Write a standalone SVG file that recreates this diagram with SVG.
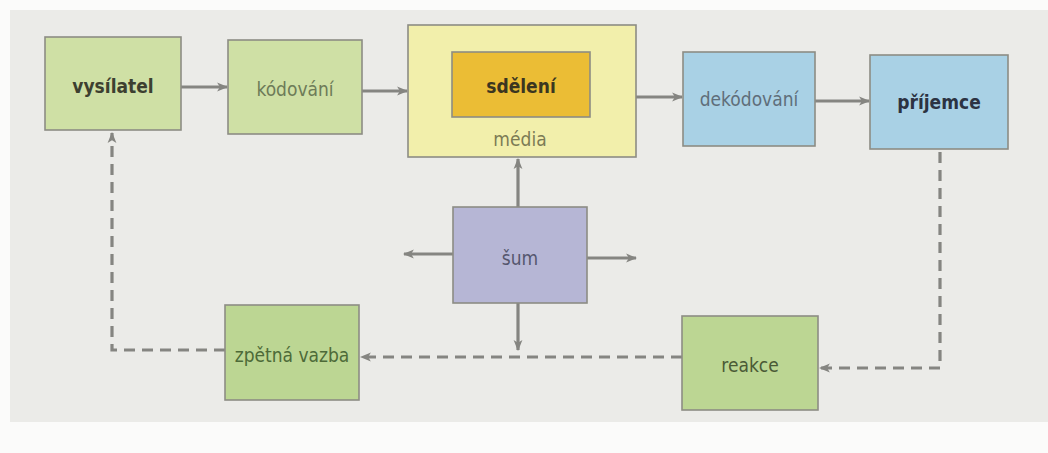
<svg xmlns="http://www.w3.org/2000/svg" width="1048" height="453" viewBox="0 0 1048 453">
<defs>
<marker id="ah" viewBox="0 0 10 10" refX="9" refY="5" markerWidth="11" markerHeight="11" markerUnits="userSpaceOnUse" orient="auto">
<path d="M0,1 L10,5 L0,9 L2.5,5 Z" fill="#858581"/>
</marker>
<style>
.box{stroke:#8d8d84;stroke-width:1.6}
.g1{fill:#cfe0a5}
.g2{fill:#bcd693}
.yl{fill:#f2efab}
.or{fill:#ebbd35}
.bl{fill:#a9d1e5}
.lv{fill:#b6b6d5}
.t{font-family:"Liberation Sans Narrow","DejaVu Sans Condensed",sans-serif;font-size:19px;text-anchor:middle;dominant-baseline:central}
.b{font-weight:bold}
.ln{stroke:#858581;stroke-width:3.2;fill:none}
.ds{stroke-dasharray:11,7}
</style>
</defs>
<rect width="1048" height="453" fill="#fbfbfa"/>
<rect x="10" y="10" width="1038" height="412" fill="#ebebe8"/>
<g id="connectors">
<line class="ln" x1="181" y1="87" x2="227" y2="87" marker-end="url(#ah)"/>
<line class="ln" x1="362" y1="91" x2="407" y2="91" marker-end="url(#ah)"/>
<line class="ln" x1="636" y1="97" x2="682" y2="97" marker-end="url(#ah)"/>
<line class="ln" x1="815" y1="101" x2="869" y2="101" marker-end="url(#ah)"/>
<line class="ln" x1="518" y1="207" x2="518" y2="159" marker-end="url(#ah)"/>
<line class="ln" x1="453" y1="254" x2="404" y2="254" marker-end="url(#ah)"/>
<line class="ln" x1="587" y1="258" x2="636" y2="258" marker-end="url(#ah)"/>
<line class="ln" x1="518" y1="303" x2="518" y2="350" marker-end="url(#ah)"/>
<path class="ln ds" d="M940,152 V368 H820" marker-end="url(#ah)"/>
<path class="ln ds" d="M682,357 H361" marker-end="url(#ah)"/>
<path class="ln ds" d="M225,350 H112 V133" marker-end="url(#ah)"/>
</g>
<g id="vysilatel"><rect class="box g1" x="45" y="37" width="136" height="93"/><text class="t b" x="113" y="86" fill="#3d4030">vysílatel</text></g>
<g id="kodovani"><rect class="box g1" x="228" y="40" width="134" height="94"/><text class="t" x="295" y="89" fill="#6d7b58">kódování</text></g>
<g id="media"><rect class="box yl" x="408" y="25" width="228" height="132"/><text class="t" x="520" y="139" fill="#7c7b55">média</text></g>
<g id="sdeleni"><rect class="box or" x="452" y="52" width="138" height="65"/><text class="t b" x="521" y="86" fill="#3b3620">sdělení</text></g>
<g id="dekodovani"><rect class="box bl" x="683" y="52" width="132" height="94"/><text class="t" x="749" y="99" fill="#5f6e7a">dekódování</text></g>
<g id="prijemce"><rect class="box bl" x="870" y="55" width="138" height="94"/><text class="t b" x="939" y="102" fill="#2c3342">příjemce</text></g>
<g id="sum"><rect class="box lv" x="453" y="207" width="134" height="96"/><text class="t" x="520" y="258" fill="#55566e">šum</text></g>
<g id="zpetna-vazba"><rect class="box g2" x="225" y="305" width="134" height="95"/><text class="t" x="292" y="355" fill="#4d6a38">zpětná vazba</text></g>
<g id="reakce"><rect class="box g2" x="682" y="316" width="136" height="94"/><text class="t" x="750" y="365" fill="#4a5a36">reakce</text></g>
</svg>
